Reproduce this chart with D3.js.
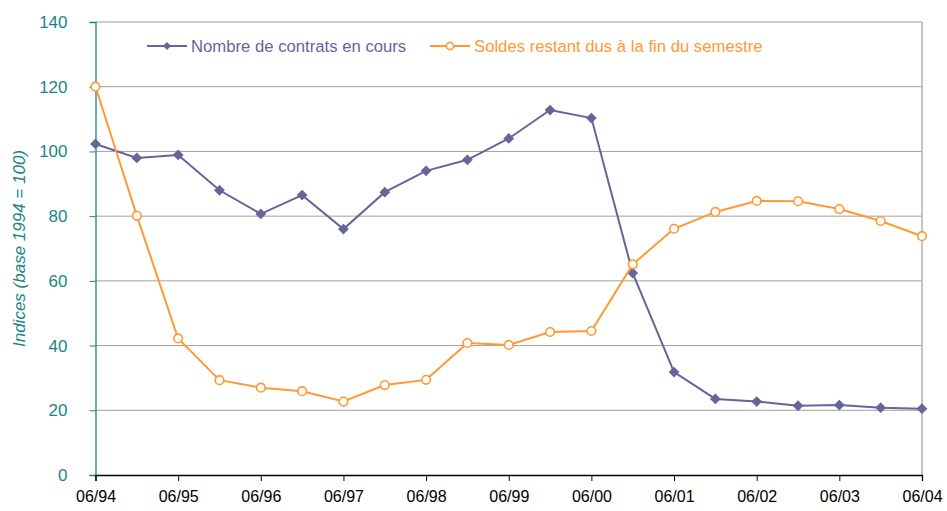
<!DOCTYPE html>
<html lang="fr">
<head>
<meta charset="UTF-8">
<title>Indices contrats / soldes</title>
<script src="https://d3js.org/d3.v7.min.js"></script>
<style>
  body { margin: 0; background: #fff; font-family: "Liberation Sans", Arial, sans-serif; }
</style>
</head>
<body>
<div id="chart"></div>
<script>
  // semiannual observations, 06/94 .. 06/04
  const periods = d3.range(21);
  const yearLabels = ["06/94","06/95","06/96","06/97","06/98","06/99","06/00","06/01","06/02","06/03","06/04"];
  const contrats = [102.3, 98, 98.9, 88, 80.7, 86.5, 76, 87.4, 94, 97.4, 104, 112.8, 110.3,
                    62.4, 31.8, 23.5, 22.7, 21.4, 21.6, 20.8, 20.5];
  const soldes = [120, 80.1, 42.2, 29.3, 27.0, 25.9, 22.7, 27.8, 29.4, 40.8, 40.2, 44.2, 44.5,
                  65.1, 76.1, 81.3, 84.7, 84.6, 82.2, 78.5, 73.8];
  const yTicks = [0, 20, 40, 60, 80, 100, 120, 140];

  const width = 947, height = 511;
  const margin = {left: 95.5, right: 25, top: 22, bottom: 36};
  const blue = "#656599", orange = "#ff9933", teal = "#1a8585";

  const svg = d3.select("#chart").append("svg")
    .attr("width", width).attr("height", height);

  const x = d3.scaleLinear().domain([0, 20]).range([margin.left, width - margin.right]);
  const y = d3.scaleLinear().domain([0, 140]).range([height - margin.bottom, margin.top]);

  // gridlines
  svg.append("g").selectAll("line")
    .data(yTicks.filter(d => d > 0))
    .enter().append("line")
    .attr("x1", x(0)).attr("x2", x(20))
    .attr("y1", d => y(d)).attr("y2", d => y(d))
    .attr("stroke", "#a0a0a0").attr("stroke-width", 1);

  // right border
  svg.append("line")
    .attr("x1", x(20)).attr("x2", x(20))
    .attr("y1", y(140)).attr("y2", y(0))
    .attr("stroke", "#b0b0b0").attr("stroke-width", 1.5);

  // y axis (teal)
  const yAxis = svg.append("g")
    .attr("transform", `translate(${x(0)},0)`)
    .call(d3.axisLeft(y).tickValues(yTicks).tickSize(6).tickPadding(22));
  yAxis.select(".domain").attr("stroke", teal).attr("stroke-width", 1.3);
  yAxis.selectAll(".tick line").attr("stroke", teal);
  yAxis.selectAll("text").attr("fill", teal)
    .style("font-family", "Liberation Sans, Arial, sans-serif").style("font-size", "17px");

  // x axis
  const xAxis = svg.append("g")
    .attr("transform", `translate(0,${y(0)})`)
    .call(d3.axisBottom(x).tickValues(d3.range(0, 21, 2))
      .tickFormat((d, i) => yearLabels[i]).tickSize(6).tickPadding(10));
  xAxis.select(".domain").attr("stroke", "#000").attr("stroke-width", 1.3);
  xAxis.selectAll(".tick line").attr("stroke", "#000");
  xAxis.selectAll("text").attr("fill", "#000")
    .style("font-family", "Liberation Sans, Arial, sans-serif").style("font-size", "16px");

  // y label
  svg.append("text")
    .attr("transform", `translate(25,${(y(0) + y(140)) / 2}) rotate(-90)`)
    .attr("text-anchor", "middle")
    .attr("fill", teal)
    .style("font-style", "italic")
    .style("font-size", "17px")
    .text("Indices (base 1994 = 100)");

  const line = d3.line().x((d, i) => x(periods[i])).y(d => y(d));
  const diamond = d3.symbol().type(d3.symbolSquare);

  // contrats series
  svg.append("path").datum(contrats)
    .attr("d", line).attr("fill", "none")
    .attr("stroke", blue).attr("stroke-width", 2);
  svg.append("g").selectAll("path")
    .data(contrats).enter().append("path")
    .attr("transform", (d, i) => `translate(${x(periods[i])},${y(d)}) rotate(45)`)
    .attr("d", diamond.size(58)())
    .attr("fill", blue);

  // soldes series
  svg.append("path").datum(soldes)
    .attr("d", line).attr("fill", "none")
    .attr("stroke", orange).attr("stroke-width", 2);
  svg.append("g").selectAll("circle")
    .data(soldes).enter().append("circle")
    .attr("cx", (d, i) => x(periods[i])).attr("cy", d => y(d))
    .attr("r", 4.3)
    .attr("fill", "#fff").attr("stroke", orange).attr("stroke-width", 1.6);

  // legend
  const legend = svg.append("g").style("font-size", "16.7px");
  const l1 = legend.append("g").attr("transform", "translate(147,46)");
  l1.append("line").attr("x1", 0).attr("x2", 40).attr("stroke", blue).attr("stroke-width", 2);
  l1.append("path").attr("transform", "translate(20,0) rotate(45)").attr("d", diamond.size(34)()).attr("fill", blue);
  l1.append("text").attr("x", 44).attr("dy", "0.35em").attr("fill", blue).text("Nombre de contrats en cours");

  const l2 = legend.append("g").attr("transform", "translate(430,46)");
  l2.append("line").attr("x1", 0).attr("x2", 40).attr("stroke", orange).attr("stroke-width", 2);
  l2.append("circle").attr("cx", 20).attr("r", 3.6).attr("fill", "#fff").attr("stroke", orange).attr("stroke-width", 1.6);
  l2.append("text").attr("x", 44).attr("dy", "0.35em").attr("fill", orange).text("Soldes restant dus à la fin du semestre");
</script>
</body>
</html>
